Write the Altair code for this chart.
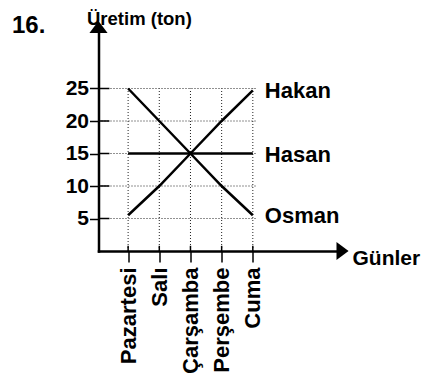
import altair as alt
import pandas as pd

# ---- data ----
days = ["Pazartesi", "Salı", "Çarşamba", "Perşembe", "Cuma"]
hakan = [5.5, 10, 15, 20, 24.7]
hasan = [15, 15, 15, 15, 15]
osman = [25, 20, 15, 10, 5.5]
series_names = ["Hakan", "Hasan", "Osman"]
y_ticks = [5, 10, 15, 20, 25]
question_no = "16."
y_title = "Üretim (ton)"
x_title = "Günler"

# ---- scale extents ----
X_MIN, X_MAX = -0.95, 6.78
Y_MIN, Y_MAX = 0, 34
GRID_X_END = 4.13
FONT = "Liberation Sans"

x_idx = list(range(len(days)))
rows = []
for name, vals in zip(series_names, [hakan, hasan, osman]):
    for i, v in zip(x_idx, vals):
        rows.append({"name": name, "i": i, "v": v})
lines_df = pd.DataFrame(rows)
end_df = lines_df[lines_df["i"] == x_idx[-1]]

xscale = alt.Scale(domain=[X_MIN, X_MAX], nice=False, zero=False)
yscale = alt.Scale(domain=[Y_MIN, Y_MAX], nice=False, zero=False)

label_expr = "[" + ",".join("'" + d + "'" for d in days) + "][datum.value]"

x_axis = alt.Axis(
    values=x_idx, labelExpr=label_expr, grid=False,
    domainWidth=2.5, domainColor="black", domainCap="square",
    tickSize=11, tickWidth=1.5, tickColor="black",
    labelAngle=270, labelAlign="right", labelBaseline="middle",
    labelPadding=5, labelFont=FONT, labelFontWeight="bold",
    labelFontSize=22, labelColor="black", labelOverlap=False, labelBound=False,
    title=x_title, titleAngle=0, titleX=253.5, titleY=7,
    titleAlign="left", titleBaseline="middle", titleFont=FONT,
    titleFontWeight="bold", titleFontSize=21, titleColor="black",
)
y_axis = alt.Axis(
    values=y_ticks, grid=False,
    domainWidth=2.5, domainColor="black", domainCap="square",
    tickSize=9, tickWidth=1.5, tickColor="black",
    labelPadding=1, labelFont=FONT, labelFontWeight="bold",
    labelFontSize=21, labelColor="black",
    title=y_title, titleAngle=0, titleX=-12, titleY=-6,
    titleAlign="left", titleBaseline="alphabetic", titleFont=FONT,
    titleFontWeight="bold", titleFontSize=18.5, titleColor="black",
)


def X(field):
    return alt.X(field, type="quantitative", scale=xscale, axis=x_axis)


def Y(field):
    return alt.Y(field, type="quantitative", scale=yscale, axis=y_axis)


# gridlines (dotted) and inner tick parts
hgrid_df = pd.DataFrame({"y": y_ticks, "x0": X_MIN, "x1": GRID_X_END,
                         "xt": X_MIN + 0.35})
vgrid_df = pd.DataFrame({"x": x_idx, "y0": 0, "y1": max(y_ticks), "yt": 0.8})

hgrid = alt.Chart(hgrid_df).mark_rule(color="#222", strokeWidth=1, strokeDash=[1, 2]).encode(
    x=X("x0"), x2="x1:Q", y=Y("y"))
vgrid = alt.Chart(vgrid_df).mark_rule(color="#222", strokeWidth=1, strokeDash=[1, 2]).encode(
    x=X("x"), y=Y("y0"), y2="y1:Q")
htick = alt.Chart(hgrid_df).mark_rule(color="black", strokeWidth=1.5).encode(
    x=X("x0"), x2="xt:Q", y=Y("y"))
vtick = alt.Chart(vgrid_df).mark_rule(color="black", strokeWidth=1.5).encode(
    x=X("x"), y=Y("y0"), y2="yt:Q")

lines = alt.Chart(lines_df).mark_line(color="black", strokeWidth=2.5).encode(
    x=X("i"), y=Y("v"), detail="name:N")

labels = alt.Chart(end_df).mark_text(
    align="left", baseline="middle", dx=12, dy=1, font=FONT, fontWeight="bold",
    fontSize=22, color="black").encode(
    x=X("i"), y=Y("v"), text="name:N")

# arrowheads at the ends of both axes (wide, flat triangles)
arrow_df = pd.DataFrame({"x": [X_MIN, X_MAX], "y": [Y_MAX, Y_MIN],
                         "shape": ["M0,-1L1,0.33L-1,0.33Z", "M1,0L-0.33,1L-0.33,-1Z"]})
arrows = alt.Chart(arrow_df).mark_point(filled=True, color="black", opacity=1, size=330,
                                        strokeWidth=0).encode(
    x=X("x"), y=Y("y"), shape=alt.Shape("shape:N", scale=None))

qdf = pd.DataFrame({"t": [question_no]})
qtext = alt.Chart(qdf).mark_text(
    align="left", baseline="alphabetic", font=FONT, fontWeight="bold",
    fontSize=24, color="black").encode(
    x=alt.value(-86.5), y=alt.value(3), text="t:N")

chart = alt.layer(hgrid, vgrid, htick, vtick, lines, labels, arrows, qtext).properties(
    width=241, height=221,
    autosize=alt.AutoSizeParams(type="none"),
    padding={"left": 90.5, "top": 22, "right": 82.5, "bottom": 124},
    background="white",
).configure_view(stroke=None)

chart.save("out.html", embed_options={"renderer": "svg", "actions": False})
